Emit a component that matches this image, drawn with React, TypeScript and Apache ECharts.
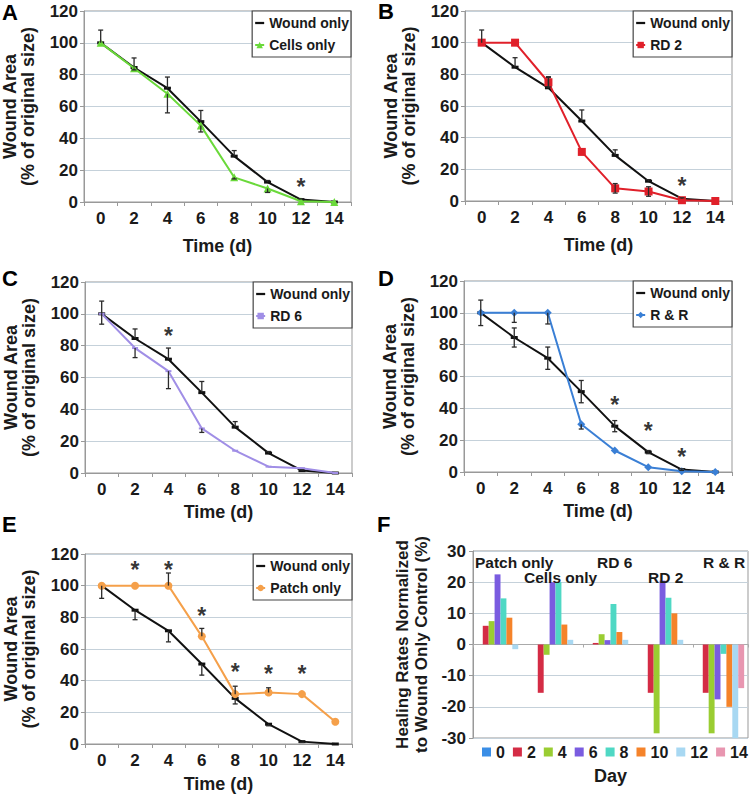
import React, { useEffect, useRef } from 'react';
import * as echarts from 'echarts';

const FONT = 'Liberation Sans, Arial, Helvetica, sans-serif';

// ---- data ----
const days = ['0', '2', '4', '6', '8', '10', '12', '14'];
const woundOnly = [100, 84.5, 71.5, 50.5, 28.8, 12.5, 1.5, 0];
const woundErr = [8, 6, 7, 7, 3.5, 1, 0.5, 0];

const cellsOnly = [100, 84, 68, 48, 15.5, 8.5, 0.5, 0];
const cellsErr = [0, 1, 12, 4, 1, 2.5, 0, 0];
const rd2 = [100, 100, 75, 31, 8, 6, 0.5, 0];
const rd2Err = [0, 0, 3, 0, 3, 3, 0, 0];
const rd6 = [100, 78.5, 64, 28, 14, 4, 3, 0];
const rd6Err = [6.5, 6, 11, 2.5, 0, 0, 0, 0];
const rAndR = [100, 100, 100, 30, 13.5, 3, 0.5, 0];
const rAndRErr = [0, 6, 7, 3, 0, 0, 0, 0];
const patchOnly = [100, 100, 100, 68, 31.5, 32.5, 31.5, 14];
const patchErr = [0, 0, 8, 5, 5, 3, 0, 0];

const woundTicks = [0, 20, 40, 60, 80, 100, 120];

const starsA: [string, number][] = [['12', 13.5]];
const starsB: [string, number][] = [['12', 13.5]];
const starsC: [string, number][] = [['4', 90]];
const starsD: [string, number][] = [['8', 46], ['10', 29.5], ['12', 13.5]];
const starsE: [string, number][] = [['2', 114], ['4', 114], ['6', 84.5], ['8', 49], ['10', 48], ['12', 48]];

const groups = ['Patch only', 'Cells only', 'RD 6', 'RD 2', 'R & R'];
const rateDays = ['0', '2', '4', '6', '8', '10', '12', '14'];
const rate0 = [0, 0, 0, 0, 0];
const rate2 = [6, -15.5, 0.5, -15.5, -15.5];
const rate4 = [7.5, -3.3, 3.3, -28.5, -28.5];
const rate6 = [22.5, 20, 1.4, 20.5, -17.6];
const rate8 = [14.8, 20, 13, 15, -3];
const rate10 = [8.6, 6.4, 4, 10, -20];
const rate12 = [-1.5, 1.5, 1.5, 1.5, -30];
const rate14 = [0, 0, 0, 0, -14];
const rateTicks = [-30, -20, -10, 0, 10, 20, 30];

// ---- styles ----
const rateSeries = [rate0, rate2, rate4, rate6, rate8, rate10, rate12, rate14];
const rateColors = ['#3a8ee6', '#d42c45', '#9acd32', '#7a5ce0', '#4fd8c4', '#f5832a', '#a8d8f2', '#e896b0'];
const GRID_LINE = '#c5d1da';
const AXIS_LINE = '#999999';
const TEXT = '#1a1a1a';

type Dir = 'up' | 'down' | 'both';

const panels = [
  { letter: 'A', name: 'Cells only', vals: cellsOnly, errs: cellsErr, color: '#6ad93a', symbol: 'triangle', size: 8, wDir: 'up' as Dir, tDir: 'down' as Dir, stars: starsA, grid: { left: 84, top: 11, width: 267, height: 191 }, letterPos: [2, 1], nameGap: 35 },
  { letter: 'B', name: 'RD 2', vals: rd2, errs: rd2Err, color: '#e0202a', symbol: 'rect', size: 8, wDir: 'up' as Dir, tDir: 'both' as Dir, stars: starsB, grid: { left: 465, top: 11, width: 267, height: 190 }, letterPos: [378, 0], nameGap: 35 },
  { letter: 'C', name: 'RD 6', vals: rd6, errs: rd6Err, color: '#a08ee6', symbol: 'rect', size: [6, 2], wDir: 'up' as Dir, tDir: 'down' as Dir, stars: starsC, grid: { left: 85, top: 282, width: 267, height: 191 }, letterPos: [2, 267], nameGap: 30 },
  { letter: 'D', name: 'R & R', vals: rAndR, errs: rAndRErr, color: '#3a7fd5', symbol: 'diamond', size: 8, wDir: 'both' as Dir, tDir: 'down' as Dir, stars: starsD, grid: { left: 464, top: 281, width: 268, height: 191 }, letterPos: [378, 267], nameGap: 30 },
  { letter: 'E', name: 'Patch only', vals: patchOnly, errs: patchErr, color: '#f5a04a', symbol: 'circle', size: 8, wDir: 'down' as Dir, tDir: 'up' as Dir, stars: starsE, grid: { left: 85, top: 554, width: 267, height: 190 }, letterPos: [2, 513], nameGap: 31 },
];
const gridF = { left: 473, top: 551, width: 275, height: 187 };

function errData(vals: number[], errs: number[], dir: Dir) {
  const out: number[][] = [];
  vals.forEach((v, i) => {
    const e = errs[i];
    if (!e) return;
    const lo = dir === 'up' ? v : v - e;
    const hi = dir === 'down' ? v : v + e;
    out.push([i, lo, hi, dir !== 'up' ? 1 : 0, dir !== 'down' ? 1 : 0]);
  });
  return out;
}

function errRender(params: any, api: any) {
  const x = api.value(0);
  const p1 = api.coord([x, api.value(1)]);
  const p2 = api.coord([x, api.value(2)]);
  const c = 2.5;
  const style = { stroke: '#2a2a2a', lineWidth: 1.3 };
  const children: any[] = [{ type: 'line', shape: { x1: p1[0], y1: p1[1], x2: p2[0], y2: p2[1] }, style }];
  if (api.value(3)) children.push({ type: 'line', shape: { x1: p1[0] - c, y1: p1[1], x2: p1[0] + c, y2: p1[1] }, style });
  if (api.value(4)) children.push({ type: 'line', shape: { x1: p2[0] - c, y1: p2[1], x2: p2[0] + c, y2: p2[1] }, style });
  return { type: 'group', children };
}

const tickLabel = { fontFamily: FONT, fontWeight: 'bold', fontSize: 17, color: TEXT };
const nameStyle = { fontFamily: FONT, fontWeight: 'bold', fontSize: 18, color: TEXT };

function buildOption() {
  const grids: any[] = [];
  const xAxes: any[] = [];
  const yAxes: any[] = [];
  const series: any[] = [];
  const legends: any[] = [];
  const graphics: any[] = [];

  panels.forEach((p, k) => {
    grids.push({ ...p.grid, show: true, borderColor: AXIS_LINE, borderWidth: 1, backgroundColor: '#fff' });
    xAxes.push({
      type: 'category', gridIndex: k, data: days, boundaryGap: true,
      axisLine: { lineStyle: { color: AXIS_LINE } },
      axisTick: { show: true, length: 4, lineStyle: { color: AXIS_LINE } },
      axisLabel: { ...tickLabel, margin: 8 },
      name: 'Time (d)', nameLocation: 'middle', nameGap: p.nameGap, nameTextStyle: nameStyle,
    });
    yAxes.push({
      type: 'value', gridIndex: k, min: woundTicks[0], max: woundTicks[woundTicks.length - 1], interval: 20,
      axisLine: { show: true, lineStyle: { color: AXIS_LINE } },
      axisTick: { show: true, length: 4, lineStyle: { color: AXIS_LINE } },
      splitLine: { lineStyle: { color: GRID_LINE, width: 1.2 } },
      axisLabel: { ...tickLabel, margin: 6 },
      name: 'Wound Area\n(% of original size)', nameLocation: 'middle', nameRotate: 90, nameGap: 47,
      nameTextStyle: { ...nameStyle, lineHeight: 18 },
    });
    series.push({
      type: 'line', name: 'Wound only', xAxisIndex: k, yAxisIndex: k, data: woundOnly,
      symbol: 'rect', symbolSize: [7, 3], showAllSymbol: true, z: 3,
      lineStyle: { color: '#111', width: 2 }, itemStyle: { color: '#111' },
    });
    series.push({
      type: 'line', name: p.name, xAxisIndex: k, yAxisIndex: k, data: p.vals,
      symbol: p.symbol, symbolSize: p.size, showAllSymbol: true, z: 4,
      lineStyle: { color: p.color, width: 2 }, itemStyle: { color: p.color },
    });
    series.push({
      type: 'custom', name: 'err-w-' + k, xAxisIndex: k, yAxisIndex: k, renderItem: errRender,
      data: errData(woundOnly, woundErr, p.wDir), encode: { x: 0, y: [1, 2] }, z: 5, silent: true,
    });
    series.push({
      type: 'custom', name: 'err-t-' + k, xAxisIndex: k, yAxisIndex: k, renderItem: errRender,
      data: errData(p.vals, p.errs, p.tDir), encode: { x: 0, y: [1, 2] }, z: 5, silent: true,
    });
    series.push({
      type: 'scatter', name: 'stars-' + k, xAxisIndex: k, yAxisIndex: k, data: p.stars,
      symbol: 'circle', symbolSize: 1, itemStyle: { color: 'rgba(0,0,0,0)' }, silent: true, z: 6,
      label: { show: true, position: 'inside', formatter: '*', fontFamily: FONT, fontWeight: 'bold', fontSize: 23, color: '#000', offset: [0, 6] },
    });
    legends.push({
      data: [{ name: 'Wound only', icon: 'path://M0,0 H12 V3 H0 Z' }, p.name], orient: 'vertical',
      right: 750 - (p.grid.left + p.grid.width), top: p.grid.top,
      backgroundColor: '#fff', borderColor: '#444', borderWidth: 1.2, borderRadius: 0,
      padding: [5, 2, 5, 2], itemGap: 8, itemWidth: 9, itemHeight: 8, symbolKeepAspect: true,
      textStyle: { fontFamily: FONT, fontWeight: 'bold', fontSize: 14, color: TEXT, lineHeight: 14 },
      selectedMode: false,
    });
    graphics.push({
      type: 'text', left: p.letterPos[0], top: p.letterPos[1],
      style: { text: p.letter, fontFamily: FONT, fontWeight: 'bold', fontSize: 22, fill: '#000' },
    });
  });

  // Panel F
  const kF = panels.length;
  grids.push({ ...gridF, show: true, borderColor: AXIS_LINE, borderWidth: 1, backgroundColor: '#fff' });
  xAxes.push({
    type: 'category', gridIndex: kF, data: groups, boundaryGap: true,
    axisLine: { show: true, onZero: true, lineStyle: { color: '#aaaaaa' } },
    axisTick: { show: true, length: 3, lineStyle: { color: '#aaaaaa' } },
    axisLabel: { show: false },
    name: 'Day', nameLocation: 'middle', nameGap: 29, nameTextStyle: nameStyle,
  });
  yAxes.push({
    type: 'value', gridIndex: kF, min: rateTicks[0], max: rateTicks[rateTicks.length - 1], interval: 10,
    axisLine: { show: true, onZero: false, lineStyle: { color: AXIS_LINE } },
    axisTick: { show: true, length: 4, lineStyle: { color: AXIS_LINE } },
    splitLine: { lineStyle: { color: GRID_LINE, width: 1.2 } },
    axisLabel: { ...tickLabel, margin: 7 },
    name: 'Healing Rates Normalized\nto Wound Only Control (%)', nameLocation: 'middle', nameRotate: 90, nameGap: 42,
    nameTextStyle: { ...nameStyle, fontSize: 17, lineHeight: 19 },
  });
  rateSeries.forEach((vals, i) => {
    series.push({
      type: 'bar', name: rateDays[i], xAxisIndex: kF, yAxisIndex: kF, data: vals,
      itemStyle: { color: rateColors[i] }, barGap: '0%', barCategoryGap: '14%',
    });
  });
  legends.push({
    data: rateDays, left: 482, top: 744, width: 300, icon: 'rect', itemWidth: 9, itemHeight: 9, itemGap: 8,
    textStyle: { fontFamily: FONT, fontWeight: 'bold', fontSize: 16, color: TEXT },
    selectedMode: false, padding: 0,
  });
  graphics.push({
    type: 'text', left: 377, top: 513,
    style: { text: 'F', fontFamily: FONT, fontWeight: 'bold', fontSize: 22, fill: '#000' },
  });
  const groupLabelPos = [[475, 562], [524, 577], [597, 562], [648, 577], [703, 562]];
  groups.forEach((g, i) => {
    graphics.push({
      type: 'text', x: groupLabelPos[i][0], y: groupLabelPos[i][1], z: 100,
      style: { text: g, fontFamily: FONT, fontWeight: 'bold', fontSize: 15.5, fill: TEXT, verticalAlign: 'middle', align: 'left' },
    });
  });

  return {
    animation: false,
    backgroundColor: '#fff',
    grid: grids, xAxis: xAxes, yAxis: yAxes, series, legend: legends, graphic: graphics,
  };
}

export default function App() {
  const ref = useRef<HTMLDivElement>(null);
  useEffect(() => {
    if (!ref.current) return;
    const chart = echarts.init(ref.current, undefined, { renderer: 'svg' });
    chart.setOption(buildOption() as any);
    return () => chart.dispose();
  }, []);
  return <div ref={ref} style={{ position: 'absolute', left: 0, top: 0, width: 750, height: 794 }} />;
}
